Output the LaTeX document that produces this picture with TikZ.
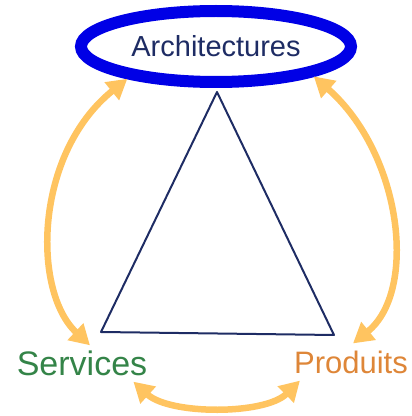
\documentclass[tikz,border=0pt]{standalone}
\usepackage{fontspec}
\setmainfont{Liberation Sans}
\usetikzlibrary{positioning,arrows.meta,shapes.geometric}
\definecolor{ringblue}{RGB}{0,0,230}
\definecolor{inkblue}{RGB}{30,44,100}
\definecolor{leafgreen}{RGB}{52,132,72}
\definecolor{rust}{RGB}{222,134,56}
\definecolor{amber}{RGB}{255,196,96}
\tikzset{
  ring/.style={ellipse,draw=ringblue,line width=12pt,minimum width=270pt,minimum height=71pt,
    inner sep=0pt,text=inkblue,font=\fontsize{29}{30}\selectfont},
  pole/.style={inner sep=1pt,font=\fontsize{34}{36}\selectfont},
  edge/.style={draw=inkblue,line width=2pt,line join=round,line cap=round},
  link/.style={draw=amber,line width=6.5pt,{Triangle[length=20pt,width=22pt]}-{Triangle[length=20pt,width=22pt]}},
}
\begin{document}
\begin{tikzpicture}[x=1pt,y=1pt]
  \useasboundingbox (0,0) rectangle (412,416);
  \node[ring] (arch) at (216,369.5) {Architectures};
  \node[pole,text=leafgreen] (serv) at (82,53) {Services};
  \node[pole,text=rust,font=\fontsize{31}{33}\selectfont] (prod) at (351,54) {Produits};
  \coordinate (apex) at (217,324);
  \coordinate (lft) at (101,84);
  \coordinate (rgt) at (334,81);
  \draw[edge] (apex) -- (lft) -- (rgt) -- cycle;
  \draw[link] (arch.200) .. controls (34,262) and (32,125) .. ([xshift=8pt,yshift=4pt]serv.north);
  \draw[link] (arch.343) .. controls (402,262) and (418,125) .. ([xshift=2pt,yshift=6pt]prod.north);
  \draw[link] ([xshift=-15pt,yshift=-5pt]serv.south east) .. controls (170,1) and (265,1) .. ([xshift=7pt,yshift=-6pt]prod.south west);
\end{tikzpicture}
\end{document}
